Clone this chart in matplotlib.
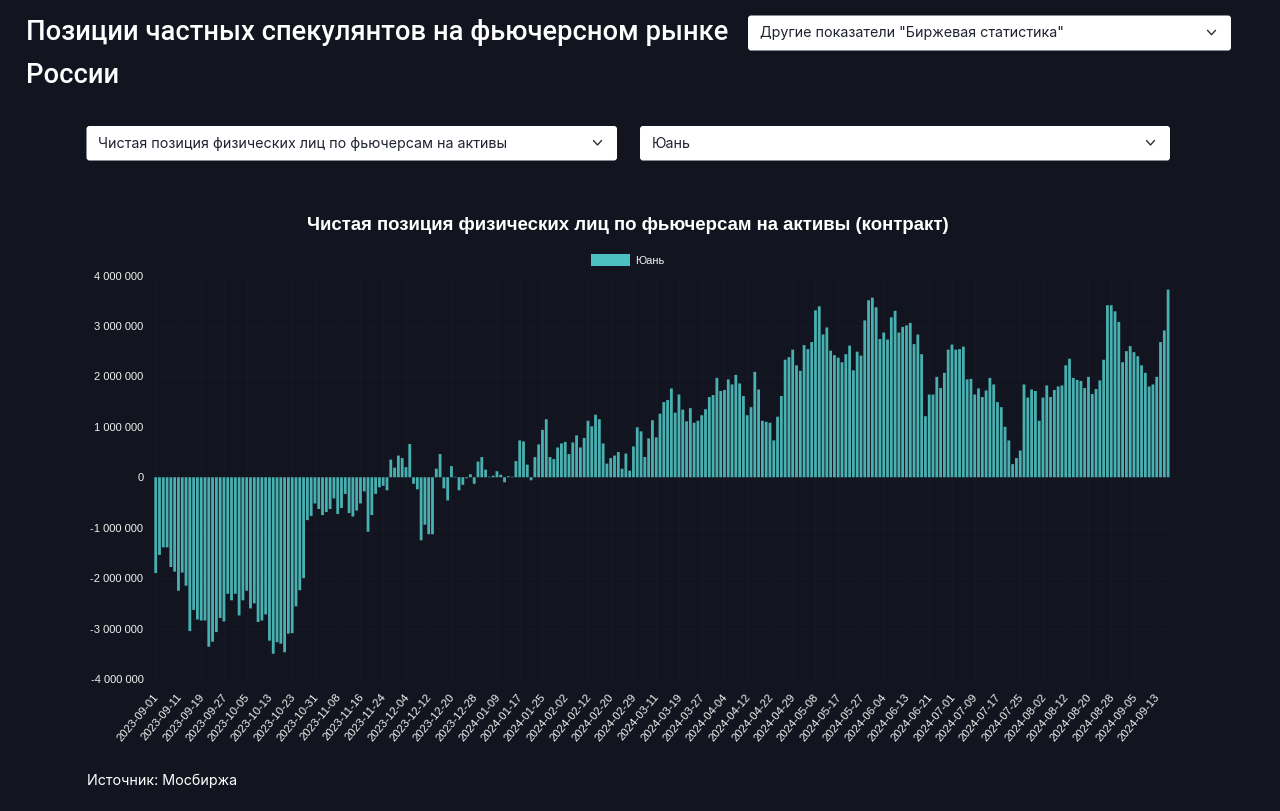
import matplotlib
matplotlib.use("Agg")
import matplotlib.pyplot as plt
from matplotlib.patches import FancyBboxPatch, Patch
from matplotlib.ticker import FuncFormatter, MultipleLocator
from matplotlib.transforms import ScaledTranslation

BG = "#12151f"
TEAL = "#48b0b0"

# net position, millions of contracts, one value per trading day
values_m = [
    -1.90, -1.54, -1.39, -1.39, -1.78, -1.87, -2.25, -1.89, -2.15, -3.05,
    -2.63, -2.82, -2.84, -2.84, -3.36, -3.26, -3.07, -2.79, -2.86, -2.31,
    -2.44, -2.31, -2.74, -2.44, -2.25, -2.60, -2.50, -2.87, -2.84, -2.72,
    -3.24, -3.50, -3.27, -3.30, -3.47, -3.10, -3.09, -2.56, -2.24, -2.00,
    -0.85, -0.77, -0.52, -0.63, -0.75, -0.69, -0.63, -0.42, -0.73, -0.61,
    -0.33, -0.71, -0.78, -0.66, -0.52, -0.28, -1.08, -0.75, -0.33, -0.20,
    -0.17, -0.26, 0.35, 0.19, 0.43, 0.38, 0.20, 0.66, -0.13, -0.24,
    -1.25, -0.94, -1.13, -1.13, 0.17, 0.46, -0.22, -0.46, 0.22, 0.01,
    -0.26, -0.15, -0.02, 0.06, -0.13, 0.31, 0.40, 0.15, 0.01, 0.03,
    0.12, 0.05, -0.10, 0.02, 0.01, 0.32, 0.73, 0.71, 0.25, -0.06,
    0.40, 0.65, 0.94, 1.15, 0.40, 0.36, 0.59, 0.67, 0.70, 0.46,
    0.69, 0.83, 0.59, 0.78, 1.12, 1.01, 1.24, 1.15, 0.67, 0.27,
    0.38, 0.43, 0.50, 0.17, 0.47, 0.13, 0.61, 0.99, 0.91, 0.40,
    0.77, 1.13, 0.79, 1.26, 1.49, 1.53, 1.76, 1.28, 1.64, 1.34,
    1.11, 1.37, 1.08, 1.12, 1.23, 1.35, 1.59, 1.63, 1.97, 1.71,
    1.73, 1.94, 1.84, 2.03, 1.86, 1.61, 1.23, 1.39, 2.09, 1.74,
    1.12, 1.10, 1.08, 0.73, 1.20, 1.61, 2.33, 2.38, 2.53, 2.22,
    2.11, 2.62, 2.54, 2.68, 3.31, 3.39, 2.83, 2.97, 2.51, 2.42,
    2.37, 2.28, 2.44, 2.61, 2.12, 2.49, 2.41, 3.11, 3.51, 3.56,
    3.37, 2.74, 2.87, 2.73, 3.17, 3.30, 2.87, 2.98, 3.01, 3.06,
    2.64, 2.83, 2.44, 1.21, 1.64, 1.64, 1.99, 1.77, 2.07, 2.53,
    2.63, 2.53, 2.54, 2.59, 1.94, 1.95, 1.64, 1.76, 1.59, 1.72,
    1.97, 1.84, 1.49, 1.39, 1.00, 0.73, 0.26, 0.38, 0.53, 1.84,
    1.58, 1.74, 1.71, 1.12, 1.58, 1.82, 1.59, 1.73, 1.80, 1.82,
    2.22, 2.35, 1.97, 1.93, 1.91, 1.77, 1.99, 1.65, 1.75, 1.92,
    2.33, 3.41, 3.41, 3.29, 3.08, 2.28, 2.50, 2.60, 2.48, 2.40,
    2.22, 2.07, 1.80, 1.84, 1.99, 2.68, 2.91, 3.72,
]

# every sixth bar is labelled
tick_labels = [
    "2023-09-01", "2023-09-11", "2023-09-19", "2023-09-27", "2023-10-05",
    "2023-10-13", "2023-10-23", "2023-10-31", "2023-11-08", "2023-11-16",
    "2023-11-24", "2023-12-04", "2023-12-12", "2023-12-20", "2023-12-28",
    "2024-01-09", "2024-01-17", "2024-01-25", "2024-02-02", "2024-02-12",
    "2024-02-20", "2024-02-29", "2024-03-11", "2024-03-19", "2024-03-27",
    "2024-04-04", "2024-04-12", "2024-04-22", "2024-04-29", "2024-05-08",
    "2024-05-17", "2024-05-27", "2024-06-04", "2024-06-13", "2024-06-21",
    "2024-07-01", "2024-07-09", "2024-07-17", "2024-07-25", "2024-08-02",
    "2024-08-12", "2024-08-20", "2024-08-28", "2024-09-05", "2024-09-13",
]

W, H = 1280, 811
plt.rcParams["font.family"] = ["Liberation Sans", "DejaVu Sans"]

fig = plt.figure(figsize=(W / 100, H / 100), dpi=100, facecolor=BG)

# page layer in pixel coordinates for the header and the dropdowns
page = fig.add_axes([0, 0, 1, 1])
page.set_xlim(0, W)
page.set_ylim(H, 0)
page.axis("off")


def dropdown(x0, x1, y0, y1, text):
    page.add_patch(FancyBboxPatch((x0 + 3, y0 + 3), x1 - x0 - 6, y1 - y0 - 6,
                                  boxstyle="round,pad=3,rounding_size=3",
                                  fc="white", ec="none"))
    page.text(x0 + 12, (y0 + y1) / 2 + 0.5, text, color="#1f2430", fontsize=10.3,
              family="Inter", va="center", ha="left")
    cx, cy = x1 - 19.5, (y0 + y1) / 2 - 0.5
    page.plot([cx - 4, cx, cx + 4], [cy - 2.2, cy + 2.2, cy - 2.2], color="#2a2f3a",
              lw=1.0, solid_capstyle="round", solid_joinstyle="round")


page.text(26.5, 33, "Позиции частных спекулянтов на фьючерсном рынке", color="white",
          fontsize=19.75, family="Roboto", fontweight="medium", va="center")
page.text(26.5, 75.5, "России", color="white", fontsize=19.75, family="Roboto",
          fontweight="medium", va="center")
dropdown(748, 1231, 15.5, 50.5, 'Другие показатели "Биржевая статистика"')
dropdown(86.5, 617, 126, 160.5, "Чистая позиция физических лиц по фьючерсам на активы")
dropdown(640, 1170, 126, 160.5, "Юань")
page.text(628, 225, "Чистая позиция физических лиц по фьючерсам на активы (контракт)",
          color="white", fontsize=13.4, fontweight="bold", family="Liberation Sans",
          ha="center", va="center")
page.text(87, 781, "Источник: Мосбиржа", color="white", fontsize=10.25, family="Inter",
          va="center")

# chart area
left, right, top, bottom = 153.8, 1170, 275.5, 679
ax = fig.add_axes([left / W, 1 - bottom / H, (right - left) / W, (bottom - top) / H])
ax.set_facecolor("none")

positions = list(range(len(values_m)))
bars = ax.bar(positions, [v * 1e6 for v in values_m], width=0.74, color=TEAL, zorder=3)
for bar in bars:
    bar.set_snap(False)

ax.set_xlim(-0.5, len(values_m) - 0.5)
ax.set_ylim(-4e6, 4e6)
ax.yaxis.set_major_locator(MultipleLocator(1e6))
ax.yaxis.set_major_formatter(FuncFormatter(lambda v, _: f"{v:,.0f}".replace(",", " ")))
ax.set_xticks(positions[::6])
ax.set_xticklabels(tick_labels, rotation=50, ha="right", rotation_mode="anchor")
ax.tick_params(axis="both", length=0, colors="#f0f0f0")
ax.tick_params(axis="y", pad=7.5, labelsize=8)
ax.tick_params(axis="x", pad=9.5, labelsize=8.2)
nudge = ScaledTranslation(-2.5 / 100, 0, fig.dpi_scale_trans)
for label in ax.get_xticklabels():
    label.set_transform(label.get_transform() + nudge)
ax.grid(color="#161923", lw=0.8, zorder=0)
for side in ax.spines.values():
    side.set_visible(False)

fig.legend(handles=[Patch(fc="#4bc0c0", ec="none", label="Юань")], frameon=False,
           loc="center", bbox_to_anchor=(627.5 / W, 1 - 260 / H), labelcolor="#f0f0f0",
           fontsize=8, handlelength=3.55, handleheight=1.4, handletextpad=0.45)

fig.savefig("out.png", dpi=100, facecolor=BG)
